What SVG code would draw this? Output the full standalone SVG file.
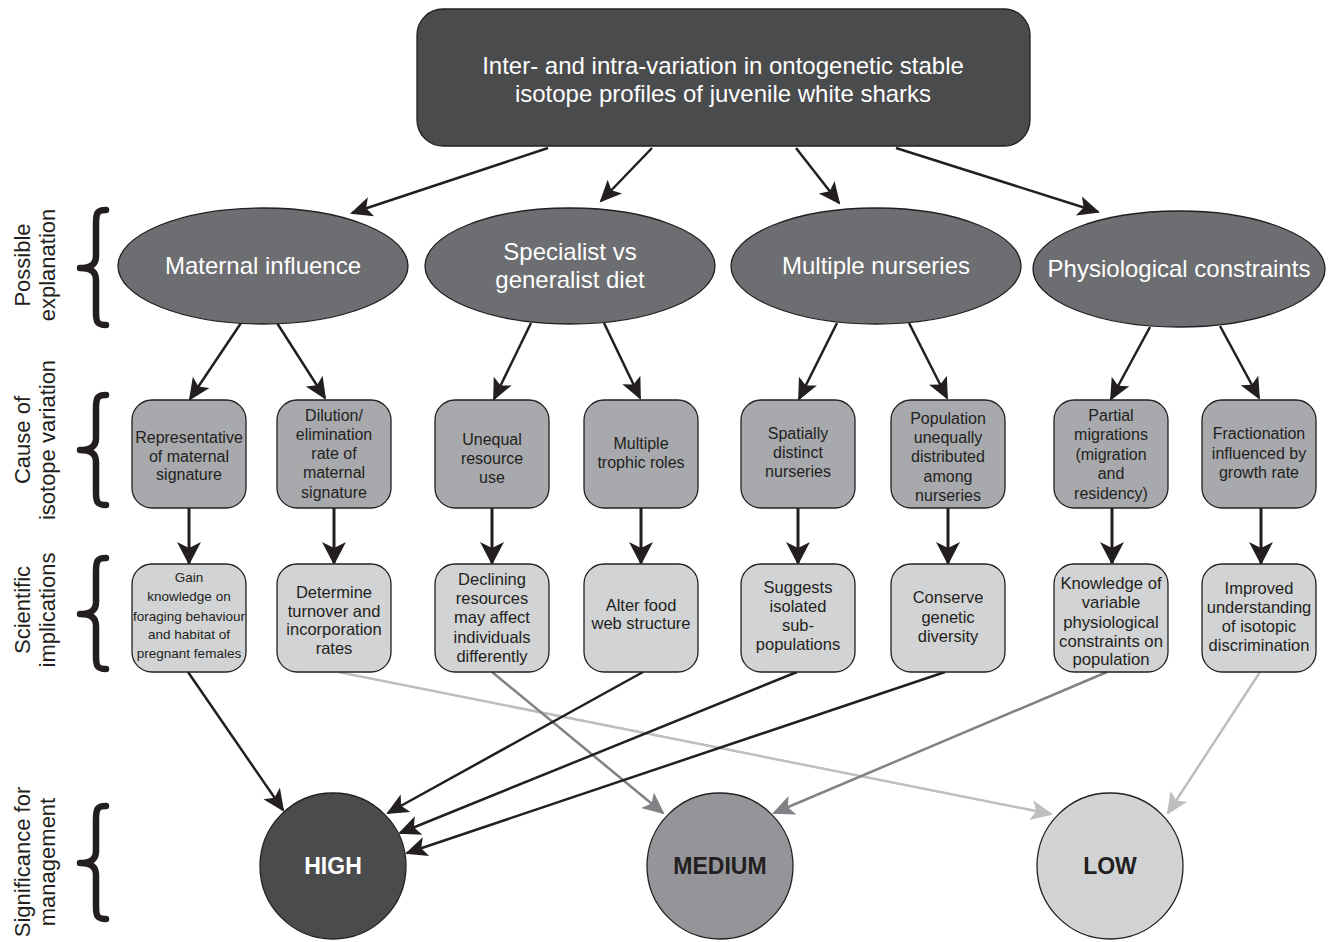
<svg xmlns="http://www.w3.org/2000/svg" width="1328" height="942" viewBox="0 0 1328 942">
<defs>
<style>
text{font-family:"Liberation Sans",Arial,sans-serif;text-anchor:middle}
.nd{stroke:#231f20;stroke-width:1.3}
.top{fill:#4a4b4d}
.ell{fill:#6d6e71}
.cause{fill:#a7a9ac}
.impl{fill:#d1d3d4}
.wt{fill:#ffffff}
.dk{fill:#231f20}
.c16{font-size:16px}
.c165{font-size:16.5px}
.et{font-size:24px}
.lab{font-size:22px;fill:#231f20}
.brace{fill:none;stroke:#231f20;stroke-width:6.5;stroke-linecap:round;stroke-linejoin:round}
.lk{fill:none;stroke:#231f20;stroke-width:2.5}
.lkv{fill:none;stroke:#231f20;stroke-width:3}
.lm{fill:none;stroke:#808285;stroke-width:2.5}
.ll{fill:none;stroke:#bcbec0;stroke-width:2.5}
.big{font-size:23px;font-weight:bold}
</style>
<marker id="ak" markerUnits="userSpaceOnUse" markerWidth="24" markerHeight="22" refX="20" refY="10" orient="auto" overflow="visible"><path d="M0,0 L22,10 L0,20 L5,10 Z" fill="#231f20"/></marker>
<marker id="akv" markerUnits="userSpaceOnUse" markerWidth="26" markerHeight="26" refX="21" refY="12" orient="auto" overflow="visible"><path d="M0,0 L23,12 L0,24 L6,12 Z" fill="#231f20"/></marker>
<marker id="am" markerUnits="userSpaceOnUse" markerWidth="24" markerHeight="22" refX="20" refY="10" orient="auto" overflow="visible"><path d="M0,0 L22,10 L0,20 L5,10 Z" fill="#808285"/></marker>
<marker id="al" markerUnits="userSpaceOnUse" markerWidth="24" markerHeight="22" refX="20" refY="10" orient="auto" overflow="visible"><path d="M0,0 L22,10 L0,20 L5,10 Z" fill="#bcbec0"/></marker>
</defs>
<rect width="1328" height="942" fill="#ffffff"/>

<g id="row-labels">
<text class="lab" transform="translate(30,265) rotate(-90)">Possible</text>
<text class="lab" transform="translate(55,265) rotate(-90)">explanation</text>
<text class="lab" transform="translate(30,440) rotate(-90)">Cause of</text>
<text class="lab" transform="translate(55,440) rotate(-90)">isotope variation</text>
<text class="lab" transform="translate(30,610) rotate(-90)">Scientific</text>
<text class="lab" transform="translate(55,610) rotate(-90)">implications</text>
<text class="lab" transform="translate(30,862) rotate(-90)">Significance for</text>
<text class="lab" transform="translate(55,862) rotate(-90)">management</text>
</g>
<g id="braces">
<path class="brace" d="M106 210 C97 210 96 213 96 224 L96 256 C96 264 91 268 80 268 C91 268 96 272 96 280 L96 312 C96 322 97 325 106 325"/>
<path class="brace" d="M106 395 C97 395 96 398 96 409 L96 438 C96 446 91 450 80 450 C91 450 96 454 96 462 L96 492 C96 502 97 505 106 505"/>
<path class="brace" d="M106 558 C97 558 96 561 96 572 L96 602 C96 610 91 614 80 614 C91 614 96 618 96 626 L96 656 C96 666 97 669 106 669"/>
<path class="brace" d="M106 806 C97 806 96 809 96 820 L96 851 C96 859 91 863 80 863 C91 863 96 867 96 875 L96 906 C96 916 97 919 106 919"/>
</g>

<g id="connectors">
<line class="lk" x1="548" y1="148" x2="352" y2="213" marker-end="url(#ak)"/>
<line class="lk" x1="652" y1="148" x2="601" y2="201" marker-end="url(#ak)"/>
<line class="lk" x1="796" y1="148" x2="839" y2="203" marker-end="url(#ak)"/>
<line class="lk" x1="896" y1="148" x2="1098" y2="212" marker-end="url(#ak)"/>

<line class="lk" x1="241" y1="323" x2="190" y2="399" marker-end="url(#ak)"/>
<line class="lk" x1="277" y1="323" x2="325" y2="398" marker-end="url(#ak)"/>
<line class="lk" x1="531" y1="323" x2="494" y2="399" marker-end="url(#ak)"/>
<line class="lk" x1="604" y1="323" x2="640" y2="398" marker-end="url(#ak)"/>
<line class="lk" x1="837" y1="323" x2="799" y2="399" marker-end="url(#ak)"/>
<line class="lk" x1="909" y1="323" x2="947" y2="398" marker-end="url(#ak)"/>
<line class="lk" x1="1150" y1="327" x2="1111" y2="399" marker-end="url(#ak)"/>
<line class="lk" x1="1220" y1="326" x2="1259" y2="398" marker-end="url(#ak)"/>

<line class="lkv" x1="189" y1="508" x2="189" y2="563" marker-end="url(#akv)"/>
<line class="lkv" x1="334" y1="508" x2="334" y2="563" marker-end="url(#akv)"/>
<line class="lkv" x1="492" y1="508" x2="492" y2="563" marker-end="url(#akv)"/>
<line class="lkv" x1="641" y1="508" x2="641" y2="563" marker-end="url(#akv)"/>
<line class="lkv" x1="798" y1="508" x2="798" y2="563" marker-end="url(#akv)"/>
<line class="lkv" x1="948" y1="508" x2="948" y2="563" marker-end="url(#akv)"/>
<line class="lkv" x1="1112" y1="508" x2="1112" y2="563" marker-end="url(#akv)"/>
<line class="lkv" x1="1261" y1="508" x2="1261" y2="563" marker-end="url(#akv)"/>

<line class="ll" x1="338" y1="672" x2="1051" y2="814" marker-end="url(#al)"/>
<line class="ll" x1="1260" y1="672" x2="1168" y2="813" marker-end="url(#al)"/>
<line class="lm" x1="492" y1="672" x2="663" y2="813" marker-end="url(#am)"/>
<line class="lm" x1="1107" y1="672" x2="774" y2="813" marker-end="url(#am)"/>
<line class="lk" x1="188" y1="672" x2="283" y2="810" marker-end="url(#ak)"/>
<line class="lk" x1="643" y1="672" x2="388" y2="813" marker-end="url(#ak)"/>
<line class="lk" x1="797" y1="672" x2="400" y2="833" marker-end="url(#ak)"/>
<line class="lk" x1="945" y1="672" x2="407" y2="853" marker-end="url(#ak)"/>
</g>

<g id="n-top">
<rect class="nd top" x="417" y="9" width="613" height="137" rx="26"/>
<text class="wt" x="723" y="74" font-size="24">Inter- and intra-variation in ontogenetic stable</text>
<text class="wt" x="723" y="102" font-size="24">isotope profiles of juvenile white sharks</text>
</g>

<g id="n-maternal"><ellipse class="nd ell" cx="263" cy="266" rx="145" ry="58"/><text class="wt et" x="263" y="274">Maternal influence</text></g>
<g id="n-specialist"><ellipse class="nd ell" cx="570" cy="266" rx="145" ry="58"/><text class="wt et" x="570" y="260">Specialist vs</text><text class="wt et" x="570" y="288">generalist diet</text></g>
<g id="n-nurseries"><ellipse class="nd ell" cx="876" cy="266" rx="145" ry="58"/><text class="wt et" x="876" y="274">Multiple nurseries</text></g>
<g id="n-physio"><ellipse class="nd ell" cx="1179" cy="269" rx="146" ry="58"/><text class="wt et" x="1179" y="277">Physiological constraints</text></g>

<g id="c1"><rect class="nd cause" x="132" y="400" width="114" height="108" rx="20"/><text class="dk c16" x="189"><tspan x="189" y="443">Representative</tspan><tspan x="189" y="462">of maternal</tspan><tspan x="189" y="480">signature</tspan></text></g>
<g id="c2"><rect class="nd cause" x="277" y="400" width="114" height="108" rx="20"/><text class="dk c16" x="334"><tspan x="334" y="421">Dilution/</tspan><tspan x="334" y="440">elimination</tspan><tspan x="334" y="459">rate of</tspan><tspan x="334" y="478">maternal</tspan><tspan x="334" y="498">signature</tspan></text></g>
<g id="c3"><rect class="nd cause" x="435" y="400" width="114" height="108" rx="20"/><text class="dk c16" x="492"><tspan x="492" y="445">Unequal</tspan><tspan x="492" y="464">resource</tspan><tspan x="492" y="483">use</tspan></text></g>
<g id="c4"><rect class="nd cause" x="584" y="400" width="114" height="108" rx="20"/><text class="dk c16" x="641"><tspan x="641" y="449">Multiple</tspan><tspan x="641" y="468">trophic roles</tspan></text></g>
<g id="c5"><rect class="nd cause" x="741" y="400" width="114" height="108" rx="20"/><text class="dk c16" x="798"><tspan x="798" y="439">Spatially</tspan><tspan x="798" y="458">distinct</tspan><tspan x="798" y="477">nurseries</tspan></text></g>
<g id="c6"><rect class="nd cause" x="891" y="400" width="114" height="108" rx="20"/><text class="dk c16" x="948"><tspan x="948" y="424">Population</tspan><tspan x="948" y="443">unequally</tspan><tspan x="948" y="462">distributed</tspan><tspan x="948" y="482">among</tspan><tspan x="948" y="501">nurseries</tspan></text></g>
<g id="c7"><rect class="nd cause" x="1054" y="400" width="114" height="108" rx="20"/><text class="dk c16" x="1111"><tspan x="1111" y="421">Partial</tspan><tspan x="1111" y="440">migrations</tspan><tspan x="1111" y="460">(migration</tspan><tspan x="1111" y="479">and</tspan><tspan x="1111" y="499">residency)</tspan></text></g>
<g id="c8"><rect class="nd cause" x="1202" y="400" width="114" height="108" rx="20"/><text class="dk c16" x="1259"><tspan x="1259" y="439">Fractionation</tspan><tspan x="1259" y="459">influenced by</tspan><tspan x="1259" y="478">growth rate</tspan></text></g>

<g id="i1"><rect class="nd impl" x="132" y="564" width="114" height="108" rx="20"/><text class="dk" font-size="13.5" x="189"><tspan x="189" y="582">Gain</tspan><tspan x="189" y="601">knowledge on</tspan><tspan x="189" y="621">foraging behaviour</tspan><tspan x="189" y="639">and habitat of</tspan><tspan x="189" y="658">pregnant females</tspan></text></g>
<g id="i2"><rect class="nd impl" x="277" y="564" width="114" height="108" rx="20"/><text class="dk c165" x="334"><tspan x="334" y="598">Determine</tspan><tspan x="334" y="617">turnover and</tspan><tspan x="334" y="635">incorporation</tspan><tspan x="334" y="654">rates</tspan></text></g>
<g id="i3"><rect class="nd impl" x="435" y="564" width="114" height="108" rx="20"/><text class="dk c165" x="492"><tspan x="492" y="585">Declining</tspan><tspan x="492" y="604">resources</tspan><tspan x="492" y="623">may affect</tspan><tspan x="492" y="643">individuals</tspan><tspan x="492" y="662">differently</tspan></text></g>
<g id="i4"><rect class="nd impl" x="584" y="564" width="114" height="108" rx="20"/><text class="dk c165" x="641"><tspan x="641" y="611">Alter food</tspan><tspan x="641" y="629">web structure</tspan></text></g>
<g id="i5"><rect class="nd impl" x="741" y="564" width="114" height="108" rx="20"/><text class="dk c165" x="798"><tspan x="798" y="593">Suggests</tspan><tspan x="798" y="612">isolated</tspan><tspan x="798" y="631">sub-</tspan><tspan x="798" y="650">populations</tspan></text></g>
<g id="i6"><rect class="nd impl" x="891" y="564" width="114" height="108" rx="20"/><text class="dk c165" x="948"><tspan x="948" y="603">Conserve</tspan><tspan x="948" y="623">genetic</tspan><tspan x="948" y="642">diversity</tspan></text></g>
<g id="i7"><rect class="nd impl" x="1054" y="564" width="114" height="108" rx="20"/><text class="dk" font-size="16.7" x="1111"><tspan x="1111" y="589">Knowledge of</tspan><tspan x="1111" y="608">variable</tspan><tspan x="1111" y="628">physiological</tspan><tspan x="1111" y="647">constraints on</tspan><tspan x="1111" y="665">population</tspan></text></g>
<g id="i8"><rect class="nd impl" x="1202" y="564" width="114" height="108" rx="20"/><text class="dk c165" x="1259"><tspan x="1259" y="594">Improved</tspan><tspan x="1259" y="613">understanding</tspan><tspan x="1259" y="632">of isotopic</tspan><tspan x="1259" y="651">discrimination</tspan></text></g>

<g id="s-high"><circle class="nd" cx="333" cy="866" r="73" fill="#4a4b4d"/><text class="big wt" x="333" y="874">HIGH</text></g>
<g id="s-medium"><circle class="nd" cx="720" cy="866" r="73" fill="#939598"/><text class="big dk" x="720" y="874">MEDIUM</text></g>
<g id="s-low"><circle class="nd" cx="1110" cy="866" r="73" fill="#d1d3d4"/><text class="big dk" x="1110" y="874">LOW</text></g>
</svg>
